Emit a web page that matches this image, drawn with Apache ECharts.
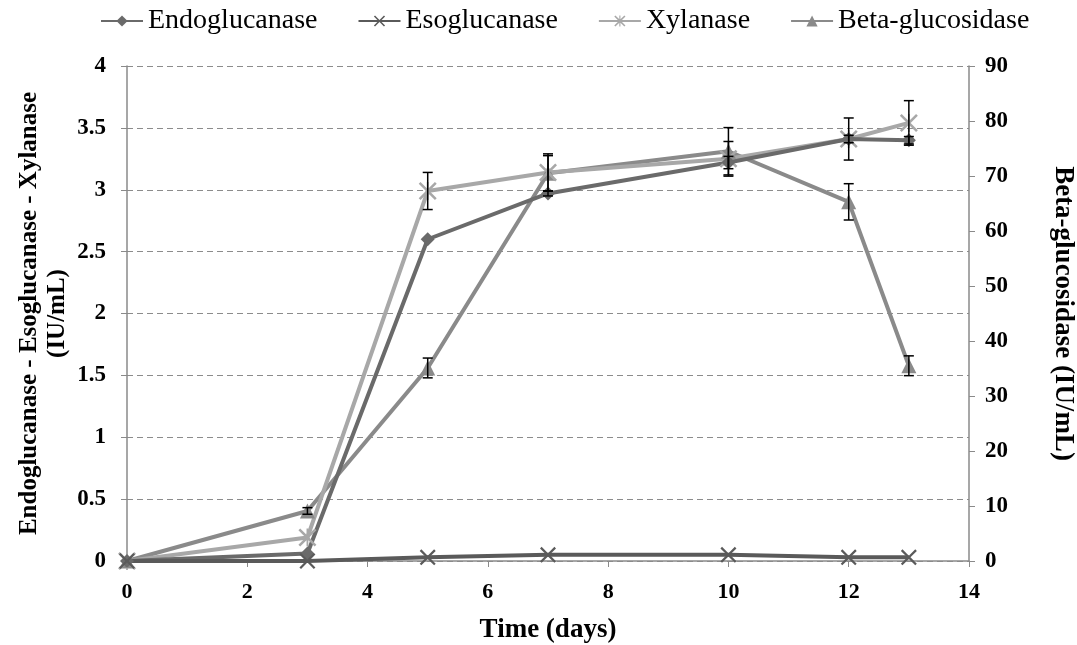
<!DOCTYPE html>
<html>
<head>
<meta charset="utf-8">
<script src="https://cdn.jsdelivr.net/npm/echarts@6/dist/echarts.min.js"></script>
<style>
html,body{margin:0;padding:0;background:#fff;}
#chart{width:1077px;height:645px;}
</style>
</head>
<body>
<div id="chart"></div>
<script>
// ---- data ----
const days = [0, 3, 5, 7, 10, 12, 13];
const endoglucanase = [0, 0.06, 2.60, 2.97, 3.22, 3.41, 3.40];
const esoglucanase = [0, 0.00, 0.03, 0.05, 0.05, 0.03, 0.03];
const xylanase = [0, 0.19, 2.99, 3.14, 3.25, 3.41, 3.54];
const betaGlucosidase = [0, 9.1, 35.1, 70.5, 74.5, 65.3, 35.5];
// error (± values)
const endoErr = [0, 0, 0, 0.02, 0.05, 0.03, 0.03];
const xylErr = [0, 0, 0.15, 0.15, 0.14, 0.17, 0.18];
const betaErr = [0, 0.6, 1.8, 3.2, 4.3, 3.3, 1.8];
const xTicks = {min: 0, max: 14, interval: 2};
const leftTicks = {min: 0, max: 4, interval: 0.5};
const rightTicks = {min: 0, max: 90, interval: 10};

const FONT = '"Liberation Serif", "Times New Roman", serif';
const C_ENDO = '#6a6a6a', C_ESO = '#5a5a5a', C_XYL = '#a8a8a8', C_BETA = '#8a8a8a';

const X_PATH = 'path://M0,1 L1,0 L5,4 L9,0 L10,1 L6,5 L10,9 L9,10 L5,6 L1,10 L0,9 L4,5 Z';
const AST_PATH = 'path://M0,1 L1,0 L4.5,3.5 L4.5,0 L5.5,0 L5.5,3.5 L9,0 L10,1 L6,5 L10,9 L9,10 L5.5,6.5 L5.5,10 L4.5,10 L4.5,6.5 L1,10 L0,9 L4,5 Z';

function pairs(vals) { return days.map((d, i) => [d, vals[i]]); }
function errData(vals, errs) { return days.map((d, i) => [d, vals[i], errs[i]]).filter(r => r[2] > 0); }

function renderErr(params, api) {
  const x = api.value(0), y = api.value(1), e = api.value(2);
  const top = api.coord([x, y + e]);
  const bot = api.coord([x, y - e]);
  const w = 5;
  const st = {stroke: '#000', lineWidth: 1.5};
  return {
    type: 'group',
    children: [
      {type: 'line', shape: {x1: top[0], y1: top[1], x2: bot[0], y2: bot[1]}, style: st},
      {type: 'line', shape: {x1: top[0] - w, y1: top[1], x2: top[0] + w, y2: top[1]}, style: st},
      {type: 'line', shape: {x1: bot[0] - w, y1: bot[1], x2: bot[0] + w, y2: bot[1]}, style: st}
    ]
  };
}

const chart = echarts.init(document.getElementById('chart'), null, {renderer: 'canvas'});

const lineSeries = (name, data, color, symbol, size, yIdx) => ({
  name, type: 'line', data, yAxisIndex: yIdx,
  symbol, symbolSize: size, showSymbol: true,
  lineStyle: {color, width: 4},
  itemStyle: {color},
  z: 3, animation: false
});

chart.setOption({
  animation: false,
  backgroundColor: '#fff',
  grid: {left: 127, right: 108, top: 66, bottom: 84, containLabel: false, outerBoundsMode: 'none'},
  legend: {
    data: ['Endoglucanase', 'Esoglucanase', 'Xylanase', 'Beta-glucosidase'],
    top: 2, left: 95,
    itemWidth: 42, itemHeight: 14, itemGap: 40,
    textStyle: {fontFamily: FONT, fontSize: 28, color: '#000'}
  },
  xAxis: {
    type: 'value', min: xTicks.min, max: xTicks.max, interval: xTicks.interval,
    name: 'Time (days)', nameLocation: 'middle', nameGap: 56,
    nameTextStyle: {fontFamily: FONT, fontSize: 27, fontWeight: 'bold', color: '#000'},
    axisLine: {lineStyle: {color: '#8a8a8a', width: 1.5}},
    axisTick: {show: true, length: 6, lineStyle: {color: '#8a8a8a'}},
    axisLabel: {fontFamily: FONT, fontSize: 22, fontWeight: 'bold', color: '#000', margin: 20},
    splitLine: {show: false}
  },
  yAxis: [
    {
      type: 'value', min: leftTicks.min, max: leftTicks.max, interval: leftTicks.interval,
      position: 'left',
      name: 'Endoglucanase - Esoglucanase - Xylanase\n(IU/mL)',
      nameLocation: 'middle', nameGap: 55, nameRotate: 90, nameMoveOverlap: false,
      nameTextStyle: {fontFamily: FONT, fontSize: 25, fontWeight: 'bold', color: '#000', lineHeight: 28},
      axisLine: {show: true, lineStyle: {color: '#8a8a8a', width: 1.5}},
      axisTick: {show: true, length: 6, lineStyle: {color: '#8a8a8a'}},
      axisLabel: {fontFamily: FONT, fontSize: 23, fontWeight: 'bold', color: '#000', margin: 21},
      splitLine: {show: true, lineStyle: {color: '#8c8c8c', width: 1, type: [6, 4]}}
    },
    {
      type: 'value', min: rightTicks.min, max: rightTicks.max, interval: rightTicks.interval,
      position: 'right',
      name: 'Beta-glucosidase (IU/mL)',
      nameLocation: 'middle', nameGap: 80, nameRotate: -90,
      nameTextStyle: {fontFamily: FONT, fontSize: 27, fontWeight: 'bold', color: '#000'},
      axisLine: {show: true, lineStyle: {color: '#8a8a8a', width: 1.5}},
      axisTick: {show: true, length: 6, lineStyle: {color: '#8a8a8a'}},
      axisLabel: {fontFamily: FONT, fontSize: 23, fontWeight: 'bold', color: '#000', margin: 16},
      splitLine: {show: false}
    }
  ],
  series: [
    lineSeries('Beta-glucosidase', pairs(betaGlucosidase), C_BETA, 'triangle', 15, 1),
    lineSeries('Xylanase', pairs(xylanase), C_XYL, AST_PATH, 18, 0),
    lineSeries('Endoglucanase', pairs(endoglucanase), C_ENDO, 'diamond', 14, 0),
    lineSeries('Esoglucanase', pairs(esoglucanase), C_ESO, X_PATH, 16, 0),
    {type: 'custom', name: 'errXyl', yAxisIndex: 0, renderItem: renderErr, data: errData(xylanase, xylErr), z: 5, encode: {x: 0, y: 1}},
    {type: 'custom', name: 'errEndo', yAxisIndex: 0, renderItem: renderErr, data: errData(endoglucanase, endoErr), z: 5, encode: {x: 0, y: 1}},
    {type: 'custom', name: 'errBeta', yAxisIndex: 1, renderItem: renderErr, data: errData(betaGlucosidase, betaErr), z: 5, encode: {x: 0, y: 1}}
  ]
});
</script>
</body>
</html>
